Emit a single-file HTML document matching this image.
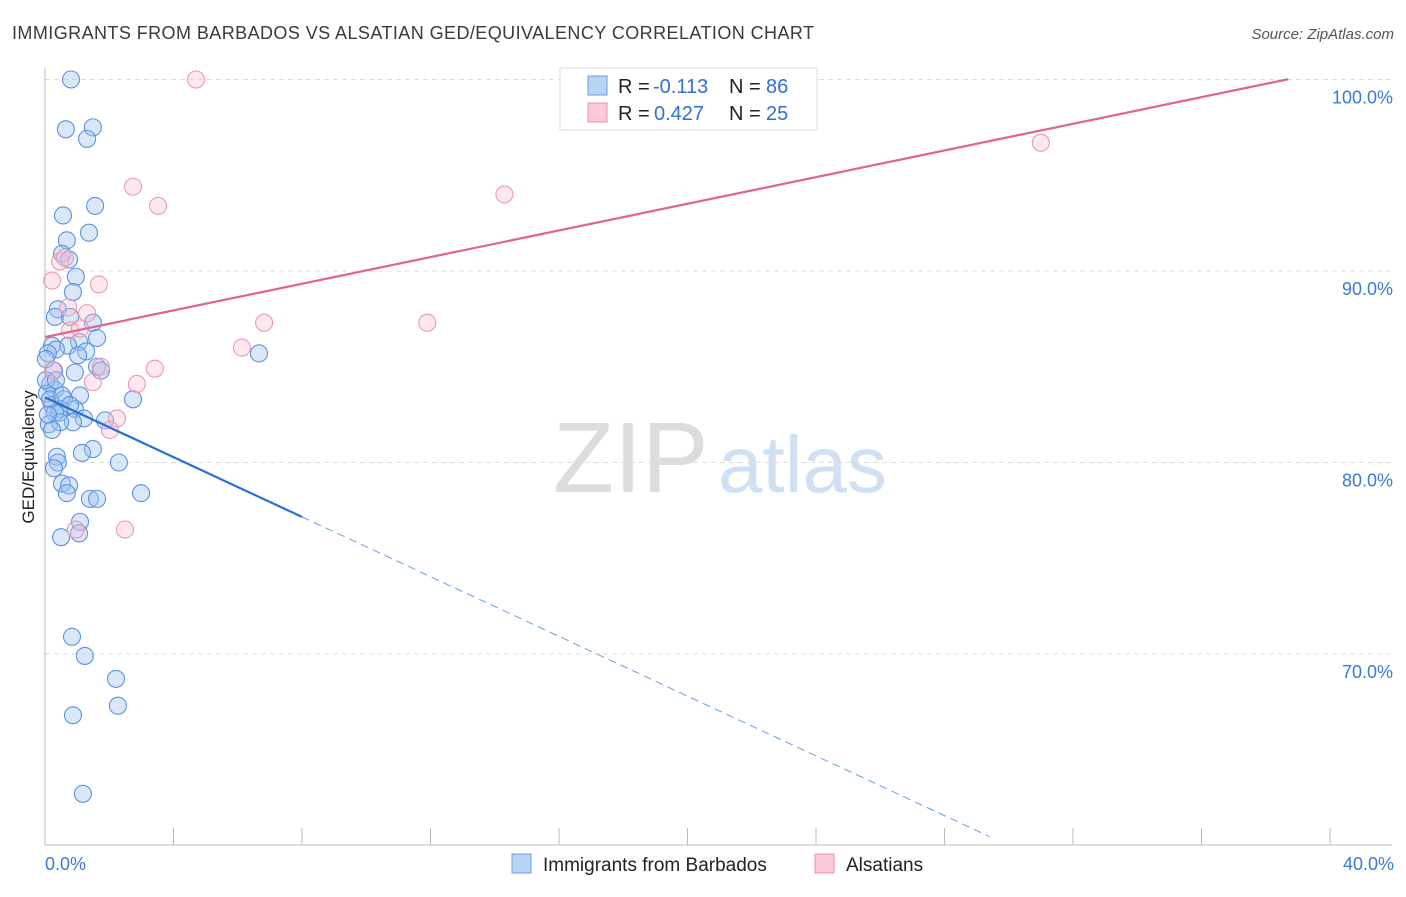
<!DOCTYPE html>
<html><head><meta charset="utf-8">
<style>
body{margin:0;background:#fff;font-family:"Liberation Sans",sans-serif;}
svg text{font-family:"Liberation Sans",sans-serif;}
</style></head>
<body>
<svg id="chart" width="1406" height="892" xmlns="http://www.w3.org/2000/svg">
<text x="12" y="39" font-size="18" fill="#3a3a3a" textLength="802" lengthAdjust="spacing">IMMIGRANTS FROM BARBADOS VS ALSATIAN GED/EQUIVALENCY CORRELATION CHART</text>
<text x="1394" y="39" font-size="15" fill="#555" text-anchor="end" font-style="italic">Source: ZipAtlas.com</text>
<text x="553" y="492" font-size="100" fill="#dcdcdc" font-family="Liberation Serif">ZIP</text>
<text x="718" y="492" font-size="80" fill="#cfe0f3">atlas</text>
<text transform="translate(34,457) rotate(-90)" font-size="17" fill="#222" text-anchor="middle">GED/Equivalency</text>
<g id="grid"></g>
<g id="marks"></g>
<g>
<rect x="560" y="68" width="257" height="62" fill="#fff" stroke="#ddd"/>
<rect x="588" y="76" width="19" height="19" fill="#b8d4f5" stroke="#6a9fe0"/>
<rect x="588" y="103" width="19" height="19" fill="#fbcad8" stroke="#ec8fab"/>
<text x="618" y="93" font-size="20" fill="#222">R =</text>
<text x="653" y="93" font-size="20" fill="#2f6fd6">-0.113</text>
<text x="729" y="93" font-size="20" fill="#222">N =</text>
<text x="766" y="93" font-size="20" fill="#2f6fd6">86</text>
<text x="618" y="120" font-size="20" fill="#222">R =</text>
<text x="654" y="120" font-size="20" fill="#2f6fd6">0.427</text>
<text x="729" y="120" font-size="20" fill="#222">N =</text>
<text x="766" y="120" font-size="20" fill="#2f6fd6">25</text>
</g>
<g>
<rect x="512" y="854" width="19" height="19" fill="#b8d4f5" stroke="#6a9fe0"/>
<text x="543" y="871" font-size="19" fill="#222">Immigrants from Barbados</text>
<rect x="815" y="854" width="19" height="19" fill="#fbcad8" stroke="#ec8fab"/>
<text x="846" y="871" font-size="19" fill="#222">Alsatians</text>
</g>
</svg>
<script>
const xTicks=[0,4,8,12,16,20,24,28,32,36,40];
const yTicks=[70,80,90,100];
const xLabels=["0.0%","40.0%"];
const blueX=[0.81,0.65,1.49,1.31,1.56,0.56,1.37,0.68,0.53,0.75,0.96,0.87,0.40,0.31,0.78,1.49,1.62,1.06,0.72,0.22,0.34,0.09,1.28,1.03,6.66,1.62,1.74,0.93,0.28,0.16,0.31,0.06,1.09,0.59,2.74,0.22,0.47,0.93,0.44,0.31,1.21,0.87,0.12,0.47,1.87,0.22,0.37,0.40,1.49,1.15,2.30,0.28,0.53,0.75,0.68,1.40,1.62,2.99,1.09,1.06,0.50,0.84,1.24,2.21,2.27,0.87,1.18,0.03,0.03,0.16,0.09,0.53,0.78,0.34];
const blueY=[100.0,97.4,97.5,96.9,93.4,92.9,92.0,91.6,90.9,90.6,89.7,88.9,88.0,87.6,87.6,87.3,86.5,86.3,86.1,86.1,85.9,85.7,85.8,85.6,85.7,85.0,84.8,84.7,84.8,84.1,83.8,83.6,83.5,83.3,83.3,83.0,82.8,82.8,82.6,82.6,82.3,82.1,82.0,82.1,82.2,81.7,80.3,80.0,80.7,80.5,80.0,79.7,78.9,78.8,78.4,78.1,78.1,78.4,76.9,76.3,76.1,70.9,69.9,68.7,67.3,66.8,62.7,85.4,84.3,83.3,82.5,83.5,83.0,84.3];
const pinkX=[4.70,31.0,14.3,2.74,3.52,0.47,0.62,0.22,1.68,0.72,1.31,6.82,11.9,0.78,1.09,6.13,3.42,1.74,0.25,2.86,1.49,2.24,2.02,0.96,2.49];
const pinkY=[100.0,96.7,94.0,94.4,93.4,90.5,90.7,89.5,89.3,88.1,87.8,87.3,87.3,86.9,87.0,86.0,84.9,85.0,84.8,84.1,84.2,82.3,81.7,76.5,76.5];
const blueTrend=[83.4,-0.78]; // intercept, slope
const pinkTrend=[86.55,0.348];
const blueSolidEnd=8.0, blueDashEnd=29.4, pinkEnd=38.7;

const X0=45,X1=1330,Y100=79.5,PX10=191.5;
const sx=v=>X0+(v/40)*(X1-X0);
const sy=v=>Y100+(100-v)/10*PX10;
const NS="http://www.w3.org/2000/svg";
function mk(tag,attrs,parent){const e=document.createElementNS(NS,tag);for(const k in attrs)e.setAttribute(k,attrs[k]);parent.appendChild(e);return e;}
const grid=document.getElementById('grid'),marks=document.getElementById('marks');
yTicks.forEach(t=>{
  const l=mk('line',{x1:X0,x2:1392,y1:sy(t),y2:sy(t),stroke:'#ddd','stroke-dasharray':'5,4'},grid);
  
  
  const tx=mk('text',{x:1393,y:sy(t)+24,'font-size':18,fill:'#3b78d8','text-anchor':'end'},grid);
  tx.textContent=t.toFixed(1)+'%';
  
  
});
let a=mk('line',{x1:X0,x2:X0,y1:68,y2:845,stroke:'#bbb'},grid);


a=mk('line',{x1:X0,x2:1392,y1:845,y2:845,stroke:'#bbb'},grid);


xTicks.forEach(t=>{
  const l=mk('line',{x1:sx(t),x2:sx(t),y1:828,y2:845,stroke:'#bbb'},grid);
  
  
});
[[0,xLabels[0],'start',45],[40,xLabels[1],'end',1394]].forEach(d=>{
  const tx=mk('text',{x:d[3],y:870,'font-size':18,fill:'#3b78d8','text-anchor':d[2]},grid);
  tx.textContent=d[1];
  
  
});
blueX.forEach((v,i)=>{
  const c=mk('circle',{cx:sx(v),cy:sy(blueY[i]),r:8.5,fill:'rgba(160,195,240,0.4)',stroke:'#5b93e0','stroke-width':1.1},marks);
  
  
});
pinkX.forEach((v,i)=>{
  const c=mk('circle',{cx:sx(v),cy:sy(pinkY[i]),r:8.5,fill:'rgba(248,190,208,0.35)',stroke:'#ec98b2','stroke-width':1.1},marks);
  
  
});
const by=x=>blueTrend[0]+blueTrend[1]*x, py=x=>pinkTrend[0]+pinkTrend[1]*x;
let t=mk('line',{x1:sx(0),y1:sy(by(0)),x2:sx(blueSolidEnd),y2:sy(by(blueSolidEnd)),stroke:'#2a6fd8','stroke-width':2.2},marks);


t=mk('line',{x1:sx(blueSolidEnd),y1:sy(by(blueSolidEnd)),x2:sx(blueDashEnd),y2:sy(by(blueDashEnd)),stroke:'#6a9fe0','stroke-width':1,'stroke-dasharray':'8,5'},marks);


t=mk('line',{x1:sx(0),y1:sy(py(0)),x2:sx(pinkEnd),y2:sy(py(pinkEnd)),stroke:'#e2638d','stroke-width':2.2},marks);


</script>
</body></html>
